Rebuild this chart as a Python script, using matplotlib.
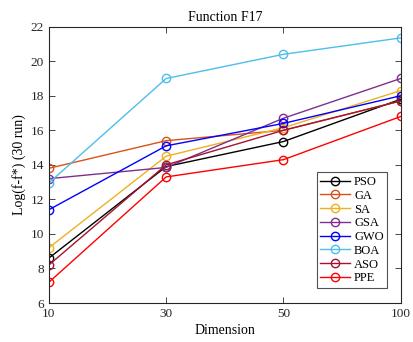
import matplotlib
matplotlib.use("Agg")
import matplotlib.pyplot as plt
import numpy as np

plt.rcParams['font.family'] = ['Liberation Serif', 'DejaVu Serif']

dims = ['10', '30', '50', '100']
PSO = [8.6, 13.9, 15.35, 17.8]
GA = [13.8, 15.4, 16.0, 17.7]
SA = [9.2, 14.5, 16.15, 18.3]
GSA = [13.2, 13.85, 16.7, 19.0]
GWO = [11.4, 15.1, 16.4, 18.0]
BOA = [12.95, 19.0, 20.4, 21.35]
ASO = [8.2, 14.0, 16.0, 17.7]
PPE = [7.2, 13.3, 14.3, 16.8]

series = [('PSO', PSO, '#000000'), ('GA', GA, '#D95319'), ('SA', SA, '#EDB120'),
          ('GSA', GSA, '#7E2F8E'), ('GWO', GWO, '#0000FF'), ('BOA', BOA, '#4DBEEE'),
          ('ASO', ASO, '#A2142F'), ('PPE', PPE, '#FF0000')]

fig = plt.figure(figsize=(4.14, 3.42), dpi=100)
ax = fig.add_axes([0.118, 0.114, 0.850, 0.808])
x = np.arange(len(dims))
for name, vals, c in series:
    ax.plot(x, vals, '-o', color=c, label=name, lw=1.0, ms=6,
            markerfacecolor='none', markeredgewidth=1.0)

ax.set_xlim(0, 3)
ax.set_ylim(6, 22)
ax.set_xticks(x)
ax.set_xticklabels(dims)
ax.set_yticks(np.arange(6, 23, 2))
ax.tick_params(direction='in', top=True, right=True, labelsize=9.5, length=4, width=0.6,
               colors='#262626')
for s in ax.spines.values():
    s.set_linewidth(0.8)
    s.set_color('#262626')
ax.set_xlabel('Dimension', fontsize=10, labelpad=3)
ax.set_ylabel('Log(f-f*) (30 run)', fontsize=10, labelpad=3)
ax.set_title('Function F17', fontsize=10, pad=4)
leg = ax.legend(loc='lower right', fontsize=9, frameon=True, fancybox=False,
                edgecolor='#262626', handlelength=2.4, borderpad=0.3, labelspacing=0.14,
                handletextpad=0.3, borderaxespad=0.0, bbox_to_anchor=(0.962, 0.054))
leg.get_frame().set_linewidth(0.8)
fig.savefig('out.png', dpi=100)
